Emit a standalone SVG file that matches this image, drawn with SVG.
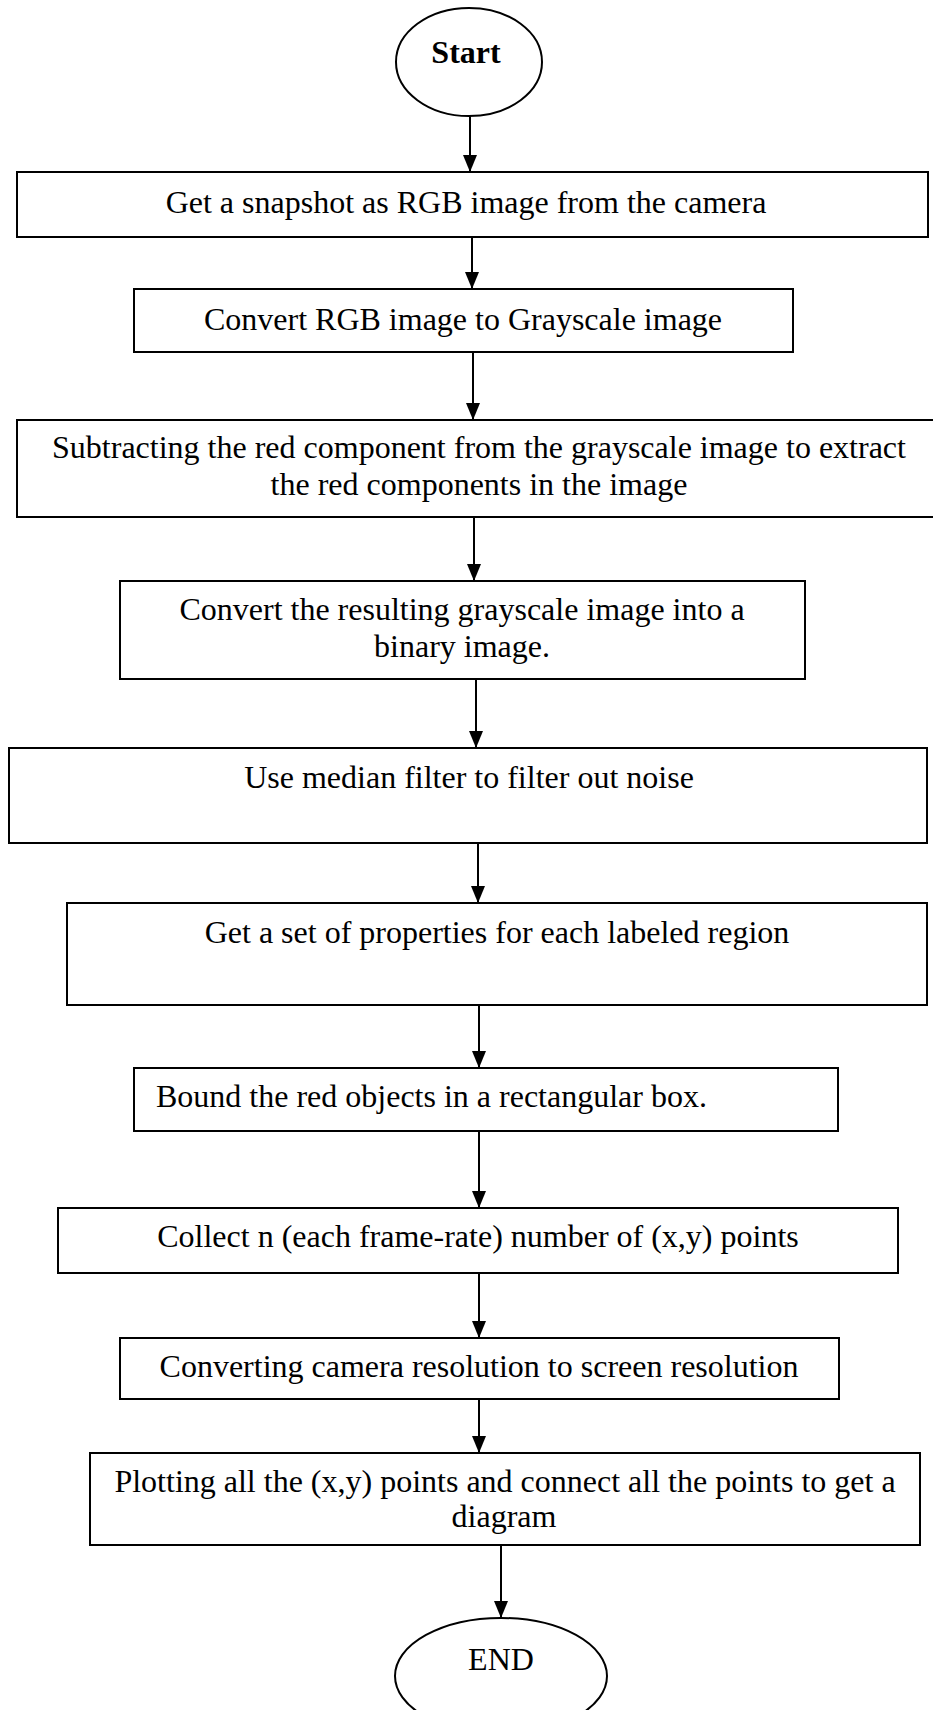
<svg xmlns="http://www.w3.org/2000/svg" width="933" height="1710" viewBox="0 0 933 1710">
<style>
.box{fill:#fff;stroke:#000;stroke-width:2}
.t{font-family:"Liberation Serif","Times New Roman",serif;font-size:32px;fill:#000;text-anchor:middle}
.l{text-anchor:start}
.b{font-weight:bold}
.c{stroke:#000;stroke-width:2;fill:none}
</style>
<defs>
<marker id="ah" viewBox="0 0 17 14" refX="17" refY="7" markerWidth="17" markerHeight="14" markerUnits="userSpaceOnUse" orient="auto">
<path d="M0,0 L17,7 L0,14 z" fill="#000"/>
</marker>
</defs>
<rect width="933" height="1710" fill="#fff"/>
<g id="connectors">
<line class="c" x1="470" y1="116" x2="470" y2="172" marker-end="url(#ah)"/>
<line class="c" x1="472" y1="237" x2="472" y2="289" marker-end="url(#ah)"/>
<line class="c" x1="473" y1="352" x2="473" y2="420" marker-end="url(#ah)"/>
<line class="c" x1="474" y1="517" x2="474" y2="581" marker-end="url(#ah)"/>
<line class="c" x1="476" y1="679" x2="476" y2="748" marker-end="url(#ah)"/>
<line class="c" x1="478" y1="843" x2="478" y2="903" marker-end="url(#ah)"/>
<line class="c" x1="479" y1="1005" x2="479" y2="1068" marker-end="url(#ah)"/>
<line class="c" x1="479" y1="1131" x2="479" y2="1208" marker-end="url(#ah)"/>
<line class="c" x1="479" y1="1273" x2="479" y2="1338" marker-end="url(#ah)"/>
<line class="c" x1="479" y1="1399" x2="479" y2="1453" marker-end="url(#ah)"/>
<line class="c" x1="501" y1="1545" x2="501" y2="1618" marker-end="url(#ah)"/>
</g>
<g id="start">
<ellipse class="box" cx="469" cy="62" rx="73" ry="54"/>
<text class="t b" x="466" y="63">Start</text>
</g>
<g id="n1">
<rect class="box" x="17" y="172" width="911" height="65"/>
<text class="t" x="466" y="213">Get a snapshot as RGB image from the camera</text>
</g>
<g id="n2">
<rect class="box" x="134" y="289" width="659" height="63"/>
<text class="t" x="463" y="330">Convert RGB image to Grayscale image</text>
</g>
<g id="n3">
<rect class="box" x="17" y="420" width="920" height="97"/>
<text class="t" x="479" y="458">Subtracting the red component from the grayscale image to extract</text>
<text class="t" x="479" y="495">the red components in the image</text>
</g>
<g id="n4">
<rect class="box" x="120" y="581" width="685" height="98"/>
<text class="t" x="462" y="620">Convert the resulting grayscale image into a</text>
<text class="t" x="462" y="657">binary image.</text>
</g>
<g id="n5">
<rect class="box" x="9" y="748" width="918" height="95"/>
<text class="t" x="469" y="788">Use median filter to filter out noise</text>
</g>
<g id="n6">
<rect class="box" x="67" y="903" width="860" height="102"/>
<text class="t" x="497" y="943">Get a set of properties for each labeled region</text>
</g>
<g id="n7">
<rect class="box" x="134" y="1068" width="704" height="63"/>
<text class="t l" x="156" y="1107">Bound the red objects in a rectangular box.</text>
</g>
<g id="n8">
<rect class="box" x="58" y="1208" width="840" height="65"/>
<text class="t" x="478" y="1247">Collect n (each frame-rate) number of (x,y) points</text>
</g>
<g id="n9">
<rect class="box" x="120" y="1338" width="719" height="61"/>
<text class="t" x="479" y="1377">Converting camera resolution to screen resolution</text>
</g>
<g id="n10">
<rect class="box" x="90" y="1453" width="830" height="92"/>
<text class="t" x="505" y="1492">Plotting all the (x,y) points and connect all the points to get a</text>
<text class="t" x="504" y="1527">diagram</text>
</g>
<g id="end">
<ellipse class="box" cx="501" cy="1676" rx="106" ry="58"/>
<text class="t" x="501" y="1670">END</text>
</g>
</svg>
